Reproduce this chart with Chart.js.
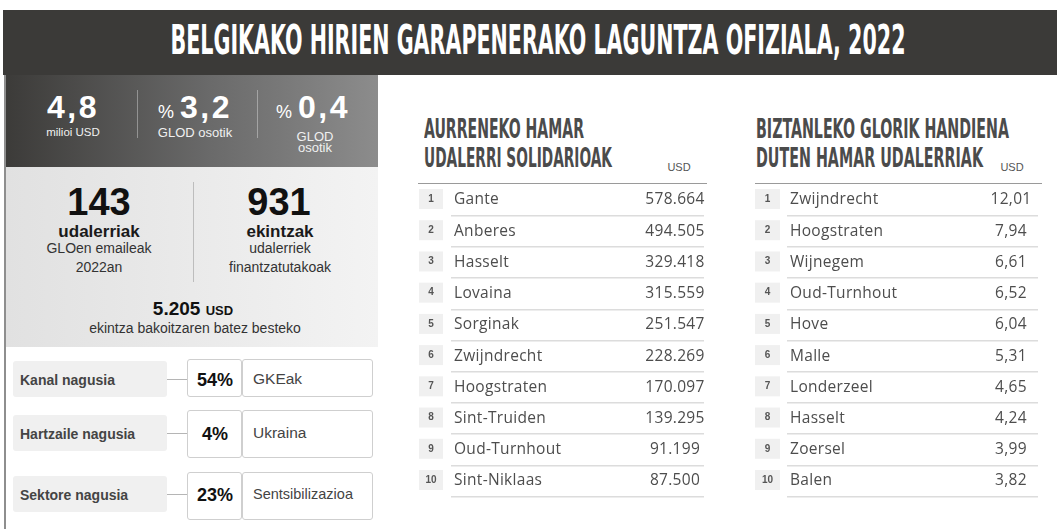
<!DOCTYPE html>
<html><head><meta charset="utf-8">
<script src="https://cdn.jsdelivr.net/npm/chart.js@4.4.0/dist/chart.umd.min.js"></script>
<style>
html,body{margin:0;padding:0;background:#fff;}
body{width:1057px;height:529px;position:relative;overflow:hidden;font-family:"Liberation Sans",Arial,sans-serif;}
.a{position:absolute;white-space:nowrap;}
</style></head>
<body>
<script>
// ---------- DATA ----------
const title = "BELGIKAKO HIRIEN GARAPENERAKO LAGUNTZA OFIZIALA, 2022";
const ranks = ["1","2","3","4","5","6","7","8","9","10"];
const topNames = ["Gante","Anberes","Hasselt","Lovaina","Sorginak","Zwijndrecht","Hoogstraten","Sint-Truiden","Oud-Turnhout","Sint-Niklaas"];
const topValues = [578664,494505,329418,315559,251547,228269,170097,139295,91199,87500];
const perCapNames = ["Zwijndrecht","Hoogstraten","Wijnegem","Oud-Turnhout","Hove","Malle","Londerzeel","Hasselt","Zoersel","Balen"];
const perCapValues = [12.01,7.94,6.61,6.52,6.04,5.31,4.65,4.24,3.99,3.82];
const table1Title = ["AURRENEKO HAMAR","UDALERRI SOLIDARIOAK"];
const table2Title = ["BIZTANLEKO GLORIK HANDIENA","DUTEN HAMAR UDALERRIAK"];
const mainRows = [["Kanal nagusia","54%","GKEak"],["Hartzaile nagusia","4%","Ukraina"],["Sektore nagusia","23%","Sentsibilizazioa"]];

// ---------- helpers ----------
function box(x,y,w,h,style){const d=document.createElement('div');d.className='a';
  Object.assign(d.style,{left:x+'px',top:y+'px',width:w+'px',height:h+'px'},style||{});document.body.appendChild(d);return d;}
function T(txt,x,cy,size,o){o=o||{};const d=document.createElement('div');d.className='a';
  d.style.fontSize=size+'px';d.style.lineHeight=size+'px';d.style.top=(cy-size/2)+'px';d.style.left=x+'px';
  d.style.color=o.color||'#222';d.style.fontWeight=o.weight||'normal';
  if(o.family)d.style.fontFamily=o.family;
  if(o.ls)d.style.letterSpacing=o.ls+'px';
  d.innerHTML=txt;
  if(o.center)d.style.transform='translateX(-50%)';
  document.body.appendChild(d);
  if(o.fit){const w=d.getBoundingClientRect().width;const s=o.fit/w;
    if(o.center){d.style.transformOrigin='50% 50%';d.style.transform='translateX(-50%) scaleX('+s+')';}
    else{d.style.transformOrigin='0 50%';d.style.transform='scaleX('+s+')';}}
  return d;}

// ---------- header ----------
box(3,10,1054,65,{background:'#3b3a38'});
const cond='"Liberation Sans Narrow","DejaVu Sans Condensed","Liberation Sans",sans-serif';
T(title,537.5,40,40,{color:'#fff',weight:'bold',family:cond,center:true,fit:735});

// ---------- left panel ----------
box(4,75,2,454,{background:'#8e8e8e'});
box(6,75,372,92,{background:'linear-gradient(90deg,#3c3b39 0%,#6a6a6a 55%,#8c8c8c 100%)'});
box(6,167,372,180,{background:'linear-gradient(90deg,#e1e1e1 0%,#f3f3f3 100%)'});
// stats
T('4,8',73,106.5,32,{color:'#fff',weight:'bold',center:true,ls:2.5});
T('milioi USD',73,133,11.5,{color:'#f0f0f0',center:true});
box(137,90,1,48,{background:'rgba(255,255,255,0.35)'});
box(257,90,1,48,{background:'rgba(255,255,255,0.35)'});
T('<span style="font-size:18px;font-weight:normal;letter-spacing:0">%</span><span style="display:inline-block;width:6px"></span>3,2',195,106.5,32,{color:'#fff',weight:'bold',center:true,ls:2.5});
T('GLOD osotik',195,132.5,13,{color:'#f0f0f0',center:true});
T('<span style="font-size:18px;font-weight:normal;letter-spacing:0">%</span><span style="display:inline-block;width:6px"></span>0,4',313,106.5,32,{color:'#fff',weight:'bold',center:true,ls:2.5});
T('GLOD',315,136,13,{color:'#f0f0f0',center:true});
T('osotik',315,147.5,13,{color:'#f0f0f0',center:true});
// counts
T('143',99,201.5,38,{color:'#111',weight:'bold',center:true});
T('udalerriak',99,231,17,{color:'#1a1a1a',weight:'bold',center:true});
T('GLOen emaileak',99,248,14,{color:'#333',center:true});
T('2022an',99,267,14,{color:'#333',center:true});
box(193,182,1,100,{background:'#bdbdbd'});
T('931',279,201.5,38,{color:'#111',weight:'bold',center:true});
T('ekintzak',280,231,17,{color:'#1a1a1a',weight:'bold',center:true});
T('udalerriek',280,248,14,{color:'#333',center:true});
T('finantzatutakoak',280,267,14,{color:'#333',center:true});
T('5.205 <span style="font-size:13px">USD</span>',193,308.5,19,{color:'#111',weight:'bold',center:true});
T('ekintza bakoitzaren batez besteko',195,328,14,{color:'#333',center:true});
// main rows
const rowGeo=[{ly:361,lh:36,by:359,bh:38},{ly:415,lh:36,by:410,bh:48},{ly:476,lh:36,by:472,bh:48}];
mainRows.forEach((r,i)=>{const g=rowGeo[i];
  box(13,g.ly,154,g.lh,{background:'#f0f0f0',borderRadius:'3px'});
  T(r[0],20,g.ly+g.lh/2+1,14,{color:'#444',weight:'bold'});
  box(167,g.ly+g.lh/2,21,1,{background:'#b5b5b5'});
  box(187,g.by,55,g.bh,{background:'#fff',border:'1px solid #cfcfcf',borderRadius:'3px',boxSizing:'border-box'});
  box(242,g.by,131,g.bh,{background:'#fff',border:'1px solid #cfcfcf',borderRadius:'3px',boxSizing:'border-box'});
  T(r[1],215,g.ly+g.lh/2+1,18,{color:'#111',weight:'bold',center:true});
  T(r[2],253,g.ly+g.lh/2,i===2?14.5:15.5,{color:'#444'});
});

// ---------- table titles ----------
T(table1Title[0],424,128.5,26,{color:'#4b4b4b',weight:'bold',family:cond,fit:160});
T(table1Title[1],424,158,26,{color:'#4b4b4b',weight:'bold',family:cond,fit:188});
T('USD',679,167,11,{color:'#555',center:true});
T(table2Title[0],756,128.5,26,{color:'#4b4b4b',weight:'bold',family:cond,fit:253});
T(table2Title[1],756,158,26,{color:'#4b4b4b',weight:'bold',family:cond,fit:227});
T('USD',1012,167,11,{color:'#555',center:true});
box(418,182.5,289,1.5,{background:'#9a9a9a'});
box(755,182.5,287,1.5,{background:'#9a9a9a'});

// ---------- tables with Chart.js ----------
const tablePlugin={id:'tableText',
  afterDatasetsDraw(chart,args,opts){
    const {ctx,chartArea}=chart;const meta=chart.getDatasetMeta(0);
    const labels=chart.data.labels;const vals=chart.data.datasets[0].data;
    ctx.save();
    meta.data.forEach((el,i)=>{const y=el.y;
      const bx=chartArea.left-32;
      ctx.fillStyle='#f0f0f0';ctx.fillRect(bx,y-11,opts.boxW,20);
      ctx.fillStyle='#555';ctx.font='bold 10px "Liberation Sans"';ctx.textAlign='center';ctx.textBaseline='middle';
      ctx.fillText(ranks[i],bx+opts.boxW/2,y-1);
      ctx.font='15.5px "Open Sans"';ctx.fillStyle='#4d4d4d';ctx.textAlign='left';
      try{ctx.letterSpacing='0.3px';}catch(e){}
      ctx.fillText(labels[i],chartArea.left+3,y);
      ctx.textAlign='center';
      ctx.fillText(opts.fmt(vals[i]),chartArea.right-opts.valOff,y);
      try{ctx.letterSpacing='0px';}catch(e){}
    });
    ctx.restore();}};
function fmtThousands(v){return String(v).replace(/\B(?=(\d{3})+(?!\d))/g,'.');}
function fmtDec(v){return v.toFixed(2).replace('.',',');}
function makeTable(x,y,w,h,names,values,fmt,valOff,boxW,pad){
  const c=document.createElement('canvas');c.width=w;c.height=h;c.className='a';
  c.style.left=x+'px';c.style.top=y+'px';c.style.width=w+'px';c.style.height=h+'px';document.body.appendChild(c);
  new Chart(c,{type:'bar',
    data:{labels:names,datasets:[{data:values,backgroundColor:'rgba(0,0,0,0)',borderWidth:0}]},
    options:{indexAxis:'y',responsive:false,animation:false,devicePixelRatio:1,
      layout:{padding:pad},
      plugins:{legend:{display:false},tooltip:{enabled:false},tableText:{fmt,valOff,boxW}},
      scales:{x:{display:false,beginAtZero:true},
        y:{display:true,afterFit(s){s.width=0;},ticks:{display:false},border:{display:false},
          grid:{offset:true,drawTicks:false,lineWidth:1.5,color:(cx)=>cx.index===0?'rgba(0,0,0,0)':'#dcdcdc'}}}},
    plugins:[tablePlugin]});}
makeTable(415,180,295,322,topNames,topValues,fmtThousands,29,24,{left:36,right:6,top:4.4,bottom:5.4});
makeTable(750,180,300,322,perCapNames,perCapValues,fmtDec,27,25,{left:37,right:12,top:4.4,bottom:5.4});
</script>
</body></html>
